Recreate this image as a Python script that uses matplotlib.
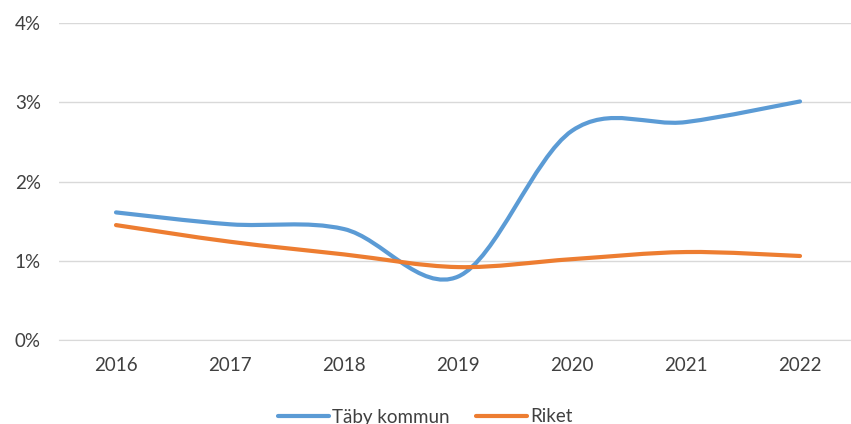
import matplotlib
matplotlib.use("Agg")
import matplotlib.pyplot as plt
from matplotlib.path import Path
from matplotlib.patches import PathPatch
from matplotlib.lines import Line2D
from matplotlib.ticker import FuncFormatter

years = ["2016", "2017", "2018", "2019", "2020", "2021", "2022"]
taby = [1.61, 1.46, 1.40, 0.80, 2.64, 2.75, 3.01]
riket = [1.45, 1.24, 1.08, 0.92, 1.02, 1.11, 1.06]

BLUE = "#5B9BD5"
ORANGE = "#ED7D31"
GRID = "#D9D9D9"
TEXT = "#404040"

plt.rcParams["font.family"] = ["Lato", "DejaVu Sans"]

W, H = 851, 424
fig = plt.figure(figsize=(W / 100, H / 100), dpi=100)
ax = fig.add_axes([59 / W, (H - 340) / H, (857 - 59) / W, (340 - 23) / H])


def smooth_path(xs, ys):
    # Excel-style smoothed line: cubic Bezier through the points
    n = len(xs)
    verts = [(xs[0], ys[0])]
    codes = [Path.MOVETO]
    for i in range(n - 1):
        x0, y0 = xs[max(i - 1, 0)], ys[max(i - 1, 0)]
        x1, y1 = xs[i], ys[i]
        x2, y2 = xs[i + 1], ys[i + 1]
        x3, y3 = xs[min(i + 2, n - 1)], ys[min(i + 2, n - 1)]
        c1 = (x1 + (x2 - x0) / 6, y1 + (y2 - y0) / 6)
        c2 = (x2 - (x3 - x1) / 6, y2 - (y3 - y1) / 6)
        verts += [c1, c2, (x2, y2)]
        codes += [Path.CURVE4] * 3
    return Path(verts, codes)


xs = list(range(len(years)))
for series, color in [(taby, BLUE), (riket, ORANGE)]:
    ax.add_patch(PathPatch(smooth_path(xs, series), facecolor="none",
                           edgecolor=color, lw=3, capstyle="round",
                           joinstyle="round", zorder=3))

ax.set_xlim(-0.5, len(years) - 0.5)
ax.set_ylim(0, 4)
ax.set_yticks([0, 1, 2, 3, 4])
ax.yaxis.set_major_formatter(FuncFormatter(lambda v, _: f"{v:.0f}%"))
ax.set_xticks(xs)
ax.set_xticklabels(years)
ax.grid(axis="y", color=GRID, lw=1)
ax.set_axisbelow(True)
for s in ["top", "right", "left"]:
    ax.spines[s].set_visible(False)
ax.spines["bottom"].set_color(GRID)
ax.tick_params(axis="both", length=0, labelsize=13.5, colors=TEXT)
ax.tick_params(axis="x", pad=12)
ax.tick_params(axis="y", pad=13)

handles = [Line2D([], [], color=BLUE, lw=3, solid_capstyle="round"),
           Line2D([], [], color=ORANGE, lw=3, solid_capstyle="round")]
fig.legend(handles, ["Täby kommun", "Riket"], loc="center",
           bbox_to_anchor=(0.5, 1 - 417 / H), ncol=2, frameon=False,
           fontsize=13.5, handlelength=2.7, handletextpad=0.2,
           columnspacing=1.4, labelcolor=TEXT)

fig.savefig("out.png", dpi=100, facecolor="white")
